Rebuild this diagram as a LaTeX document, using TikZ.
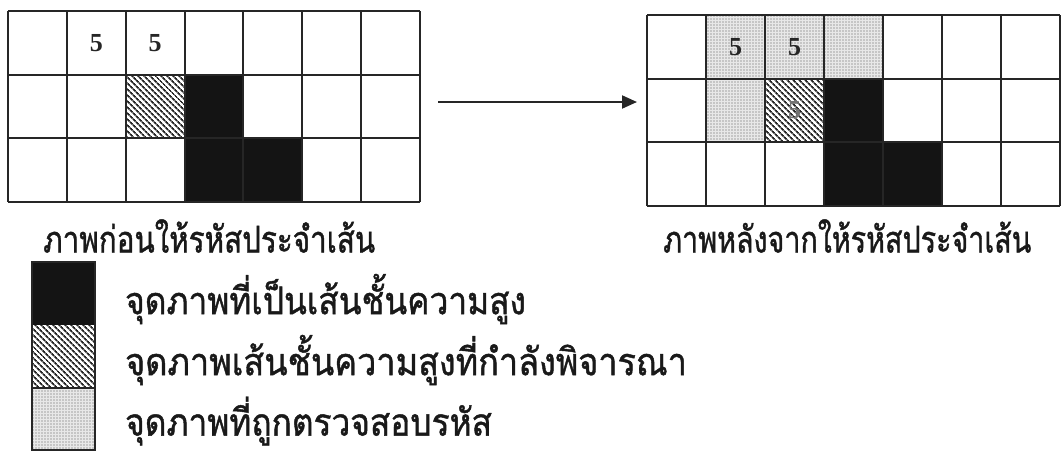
\documentclass[tikz,border=0pt]{standalone}
\usepackage{fontspec}
\newfontfamily\thai[Script=Thai,FakeBold=1.2]{Loma}
\newfontfamily\digitfont{Liberation Serif}
\usetikzlibrary{patterns.meta,arrows.meta}
\tikzset{
  gridline/.style={draw=black!85, line width=2pt},
  blackcell/.style={fill=black!92},
  hatchcell/.style={pattern={Lines[angle=-45,distance=4pt,line width=1.9pt]}, pattern color=black!85},
  dotcell/.style={fill=black!9},
  dotpat/.style={pattern={Dots[radius=0.6pt,distance=3pt]}, pattern color=black!65},
  num/.style={font=\digitfont\fontsize{26}{26}\selectfont\bfseries, text=black!85},
  caption/.style={font=\thai\fontsize{37}{40}\selectfont, anchor=west, inner sep=0pt, text=black!90},
  legtext/.style={font=\thai\fontsize{38}{40}\selectfont, anchor=west, inner sep=0pt, text=black!90},
  arrowline/.style={line width=2pt, draw=black!85, -{Triangle[length=15pt,width=13pt]}}
}
\begin{document}
\begin{tikzpicture}[x=1pt,y=-1pt]
\useasboundingbox (0,0) rectangle (1063,451);
% ---------- left grid: x 8..420, y 11..202
\def\lx{8}\def\ly{11}\def\lw{58.857}\def\lh{63.667}
\fill[blackcell] (\lx+3*\lw,\ly+\lh) rectangle (\lx+4*\lw,\ly+3*\lh);
\fill[blackcell] (\lx+4*\lw,\ly+2*\lh) rectangle (\lx+5*\lw,\ly+3*\lh);
\fill[hatchcell] (\lx+2*\lw,\ly+\lh) rectangle (\lx+3*\lw,\ly+2*\lh);
\foreach \i in {0,...,7} \draw[gridline] (\lx+\i*\lw,\ly) -- (\lx+\i*\lw,\ly+3*\lh);
\foreach \j in {0,...,3} \draw[gridline] (\lx,\ly+\j*\lh) -- (\lx+7*\lw,\ly+\j*\lh);
\node[num] (l12) at (\lx+1.5*\lw,\ly+0.5*\lh) {5};
\node[num] (l13) at (\lx+2.5*\lw,\ly+0.5*\lh) {5};
% ---------- right grid: x 647..1060, y 15..206
\def\rx{647}\def\ry{15}\def\rw{59}\def\rh{63.667}
\foreach \c/\r in {1/0,2/0,3/0,1/1} {
  \fill[dotcell] (\rx+\c*\rw,\ry+\r*\rh) rectangle (\rx+\c*\rw+\rw,\ry+\r*\rh+\rh);
  \fill[dotpat] (\rx+\c*\rw,\ry+\r*\rh) rectangle (\rx+\c*\rw+\rw,\ry+\r*\rh+\rh);
}
\fill[blackcell] (\rx+3*\rw,\ry+\rh) rectangle (\rx+4*\rw,\ry+3*\rh);
\fill[blackcell] (\rx+4*\rw,\ry+2*\rh) rectangle (\rx+5*\rw,\ry+3*\rh);
\fill[hatchcell] (\rx+2*\rw,\ry+\rh) rectangle (\rx+3*\rw,\ry+2*\rh);
\foreach \i in {0,...,7} \draw[gridline] (\rx+\i*\rw,\ry) -- (\rx+\i*\rw,\ry+3*\rh);
\foreach \j in {0,...,3} \draw[gridline] (\rx,\ry+\j*\rh) -- (\rx+7*\rw,\ry+\j*\rh);
\node[num] (r12) at (\rx+1.5*\rw,\ry+0.5*\rh) {5};
\node[num] (r13) at (\rx+2.5*\rw,\ry+0.5*\rh) {5};
\node[num, text=black!55] (r23) at (\rx+2.5*\rw,\ry+1.5*\rh) {5};
% ---------- arrow
\coordinate (arrA) at (438,102);
\coordinate (arrB) at (637,102);
\draw[arrowline] (arrA) -- (arrB);
% ---------- captions
\node[caption] (capL) at (43,236) {\scalebox{0.8}[1]{ภาพก่อนให้รหัสประจำเส้น}};
\node[caption] (capR) at (663,236) {\scalebox{0.775}[1]{ภาพหลังจากให้รหัสประจำเส้น}};
% ---------- legend
\fill[black!92] (32,262) rectangle (95,325);
\fill[hatchcell] (32,325) rectangle (95,388);
\fill[dotcell] (32,388) rectangle (95,450);
\fill[dotpat] (32,388) rectangle (95,450);
\draw[draw=black!85, line width=1.5pt] (32,262) rectangle (95,450);
\draw[draw=black!85, line width=1.2pt] (32,388) -- (95,388);
\node[legtext] (leg1) at (125,299) {\scalebox{0.88}[1]{จุดภาพที่เป็นเส้นชั้นความสูง}};
\node[legtext] (leg2) at (125,360) {\scalebox{0.9}[1]{จุดภาพเส้นชั้นความสูงที่กำลังพิจารณา}};
\node[legtext] (leg3) at (125,421) {\scalebox{0.88}[1]{จุดภาพที่ถูกตรวจสอบรหัส}};
\end{tikzpicture}
\end{document}
